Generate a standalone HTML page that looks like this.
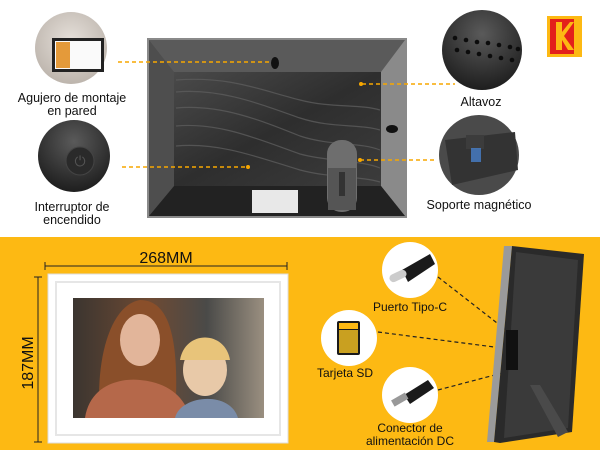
<!DOCTYPE html>
<html><head><meta charset="utf-8"><style>
html,body{margin:0;padding:0;width:600px;height:450px;overflow:hidden;background:#fff}
svg{display:block}
text{font-family:"Liberation Sans",sans-serif;fill:#111}
</style></head><body>
<svg width="600" height="450" viewBox="0 0 600 450" xmlns="http://www.w3.org/2000/svg">
<defs>
<linearGradient id="wv" x1="0" y1="0" x2="1" y2="1">
<stop offset="0" stop-color="#4a4a4a"/><stop offset="0.5" stop-color="#2e2e2e"/><stop offset="1" stop-color="#3c3c3c"/></linearGradient>
<radialGradient id="c1" cx="0.5" cy="0.4" r="0.6"><stop offset="0" stop-color="#e6e0da"/><stop offset="1" stop-color="#bdb5ad"/></radialGradient>
<radialGradient id="c2" cx="0.5" cy="0.3" r="0.7"><stop offset="0" stop-color="#5a5a5a"/><stop offset="1" stop-color="#1e1e1e"/></radialGradient>
<linearGradient id="ph" x1="0" y1="0" x2="1" y2="0">
<stop offset="0" stop-color="#3b3530"/><stop offset="0.4" stop-color="#6e4a33"/><stop offset="0.7" stop-color="#4a4a48"/><stop offset="1" stop-color="#9a8f80"/></linearGradient>
</defs>
<rect x="0" y="0" width="600" height="237" fill="#fff"/>
<rect x="0" y="237" width="600" height="213" fill="#FDB913"/>

<!-- back frame -->
<rect x="147" y="38" width="260" height="180" fill="#8a8a8a"/>
<rect x="149" y="40" width="256" height="176" fill="#5e5e5e"/>
<polygon points="149,40 405,40 381,72 174,72" fill="#5a5a5a"/>
<polygon points="149,40 174,72 174,186 149,216" fill="#4e4e4e"/>
<polygon points="405,40 405,216 381,186 381,72" fill="#8a8a8a"/>
<rect x="174" y="72" width="207" height="114" fill="url(#wv)"/>
<g stroke="#5c5c5c" stroke-width="1.2" fill="none" opacity="0.8">
<path d="M176,80 C230,76 260,90 300,100 C330,108 360,104 380,110"/>
<path d="M176,92 C220,88 260,104 300,118 C330,128 360,124 380,130"/>
<path d="M176,108 C220,104 260,120 300,136 C330,146 360,142 380,150"/>
<path d="M176,126 C220,122 260,140 300,154 C330,162 360,160 380,168"/>
<path d="M176,146 C220,142 260,158 300,170 C330,178 360,176 380,182"/>
</g>
<polygon points="174,186 381,186 405,216 149,216" fill="#222"/>
<rect x="252" y="190" width="46" height="23" fill="#e8e8e8"/>
<rect x="327" y="140" width="30" height="72" rx="14" fill="#6e6e6e"/>
<rect x="328" y="168" width="28" height="42" fill="#555"/>
<rect x="339" y="172" width="6" height="24" fill="#333"/>
<ellipse cx="275" cy="63" rx="4" ry="6" fill="#111"/>
<ellipse cx="392" cy="129" rx="6" ry="4" fill="#111"/>

<!-- dashed orange -->
<g stroke="#F7A700" stroke-width="1.4" stroke-dasharray="4,3" fill="none">
<line x1="118" y1="62" x2="270" y2="62"/>
<line x1="362" y1="84" x2="455" y2="84"/>
<line x1="122" y1="167" x2="248" y2="167"/>
<line x1="360" y1="160" x2="436" y2="160"/>
</g>
<g fill="#F7A700"><circle cx="361" cy="84" r="2"/><circle cx="248" cy="167" r="2"/><circle cx="360" cy="160" r="2"/></g>

<!-- circles top -->
<circle cx="71" cy="48" r="36" fill="url(#c1)"/>
<rect x="52" y="38" width="52" height="34" fill="#222"/>
<rect x="55" y="41" width="46" height="28" fill="#fafafa"/>
<rect x="56" y="42" width="14" height="26" fill="#e49a3a"/>
<circle cx="74" cy="156" r="36" fill="url(#c2)"/>
<circle cx="80" cy="161" r="14" fill="#2a2a2a" stroke="#444"/>
<text x="80" y="166" font-size="14" text-anchor="middle" style="fill:#555">⏻</text>
<circle cx="482" cy="50" r="40" fill="url(#c2)"/>
<g fill="#0c0c0c"><circle cx="455" cy="38" r="2.3"/><circle cx="466" cy="40" r="2.3"/><circle cx="477" cy="42" r="2.3"/><circle cx="488" cy="43" r="2.3"/><circle cx="499" cy="45" r="2.3"/><circle cx="510" cy="47" r="2.3"/><circle cx="518" cy="49" r="2.3"/>
<circle cx="457" cy="50" r="2.3"/><circle cx="468" cy="52" r="2.3"/><circle cx="479" cy="54" r="2.3"/><circle cx="490" cy="56" r="2.3"/><circle cx="501" cy="58" r="2.3"/><circle cx="512" cy="60" r="2.3"/></g>
<circle cx="479" cy="155" r="40" fill="#4a4a4a"/>
<path d="M445,140 L515,132 L518,170 L452,185 Z" fill="#333"/>
<rect x="466" y="135" width="18" height="14" fill="#3c3c3c"/>
<rect x="471" y="148" width="10" height="14" fill="#4a8ae0" opacity="0.7"/>

<!-- kodak logo -->
<rect x="547" y="16" width="35" height="41" fill="#FDB913"/>
<rect x="550" y="19" width="24" height="35" fill="#E3201B"/>
<polygon points="556,22 562,22 562,32 570,22 574,22 564,36 574,50 568,50 562,40 562,50 556,50" fill="#FDB913"/>

<g font-size="12.5" text-anchor="middle">
<text x="72" y="102">Agujero de montaje</text>
<text x="72" y="115">en pared</text>
<text x="72" y="211">Interruptor de</text>
<text x="72" y="224">encendido</text>
<text x="481" y="106">Altavoz</text>
<text x="479" y="209">Soporte magnético</text>
</g>

<!-- bottom left -->
<text x="166" y="263" font-size="16" text-anchor="middle">268MM</text>
<line x1="45" y1="266" x2="287" y2="266" stroke="#222" stroke-width="1"/>
<line x1="45" y1="262" x2="45" y2="270" stroke="#222"/><line x1="287" y1="262" x2="287" y2="270" stroke="#222"/>
<line x1="38" y1="277" x2="38" y2="442" stroke="#222"/>
<line x1="34" y1="277" x2="42" y2="277" stroke="#222"/><line x1="34" y1="442" x2="42" y2="442" stroke="#222"/>
<text x="0" y="0" font-size="16" text-anchor="middle" transform="translate(33,363) rotate(-90)">187MM</text>
<rect x="48" y="274" width="240" height="169" fill="#fff" stroke="#ddd"/>
<rect x="56" y="282" width="224" height="153" fill="none" stroke="#e6e6e6" stroke-width="2"/>
<rect x="73" y="298" width="191" height="120" fill="url(#ph)"/>
<path d="M100,418 C95,360 110,305 140,300 C170,300 180,340 175,418 Z" fill="#8a4f2a"/>
<ellipse cx="140" cy="340" rx="20" ry="26" fill="#e2b59a"/>
<path d="M85,418 C90,385 120,378 140,380 C165,382 185,395 190,418 Z" fill="#b5684a"/>
<ellipse cx="205" cy="370" rx="22" ry="26" fill="#e8c9a8"/>
<path d="M180,360 C185,330 225,330 230,360 Z" fill="#e8c47a"/>
<path d="M175,418 C180,395 230,390 238,418 Z" fill="#7a8ca8"/>

<!-- bottom right -->
<g stroke="#222" stroke-width="1.2" stroke-dasharray="4,3" fill="none">
<line x1="438" y1="277" x2="506" y2="330"/>
<line x1="378" y1="332" x2="502" y2="348"/>
<line x1="438" y1="390" x2="506" y2="372"/>
</g>
<circle cx="410" cy="270" r="28" fill="#fff"/>
<path d="M402,270 L430,254 L435,264 L408,282 Z" fill="#1a1a1a"/>
<rect x="389" y="272" width="18" height="8" rx="4" fill="#ccc" transform="rotate(-25 398 276)"/>
<circle cx="349" cy="338" r="28" fill="#fff"/>
<rect x="337" y="321" width="23" height="34" rx="2" fill="#1a1a1a"/>
<rect x="339" y="323" width="19" height="6" fill="#FDB913"/>
<rect x="339" y="330" width="19" height="23" fill="#c9a020"/>
<circle cx="410" cy="395" r="28" fill="#fff"/>
<path d="M404,395 L428,380 L434,388 L410,404 Z" fill="#1a1a1a"/>
<rect x="392" y="396" width="16" height="7" fill="#999" transform="rotate(-30 400 400)"/>
<g font-size="12" text-anchor="middle">
<text x="410" y="311">Puerto Tipo-C</text>
<text x="345" y="377">Tarjeta SD</text>
<text x="410" y="432">Conector de</text>
<text x="410" y="445">alimentación DC</text>
</g>
<polygon points="504,246 512,246 494,442 487,442" fill="#9a9a9a"/>
<polygon points="512,246 584,254 572,432 500,443 494,442" fill="#2a2a2a"/>
<polygon points="516,252 578,260 568,428 504,438" fill="#3a3a3a"/>
<rect x="506" y="330" width="12" height="40" fill="#111"/>
<polygon points="530,385 540,385 568,432 558,437" fill="#4a4a4a"/>
</svg>
</body></html>
